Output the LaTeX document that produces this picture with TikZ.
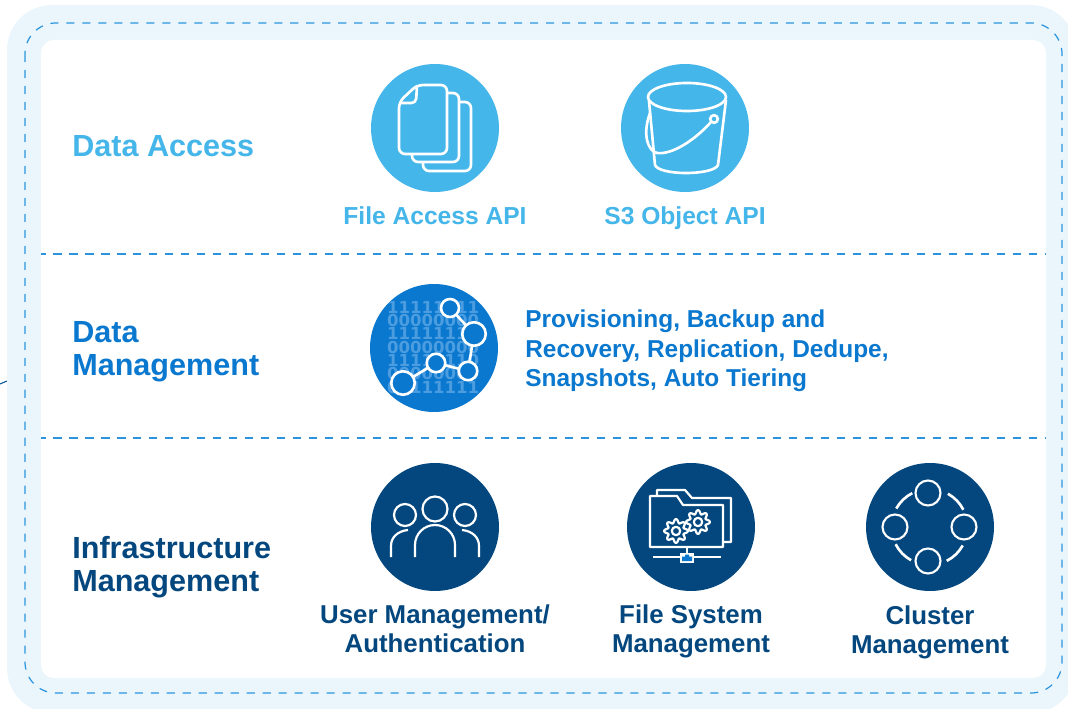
\documentclass[tikz,border=0pt]{standalone}
\usepackage{fontspec}
\setmainfont{Liberation Sans}
\newfontfamily\digitfont{DejaVu Sans}
\usetikzlibrary{positioning}
\definecolor{bandblue}{HTML}{EAF6FC}
\definecolor{accessblue}{HTML}{45B6E9}
\definecolor{managblue}{HTML}{0B78CF}
\definecolor{infrablue}{HTML}{03477E}
\definecolor{dashblue}{HTML}{2A94DE}
\definecolor{digitblue}{HTML}{4C9DE0}
\tikzset{
	badge/.style={circle,minimum size=2.56cm,inner sep=0pt,outer sep=0pt},
	iconline/.style={draw=white,line width=1.5pt,line join=round},
	thinline/.style={draw=white,line width=1.25pt,line join=round},
	dashline/.style={draw=dashblue,line width=0.7pt,dash pattern=on 4.6pt off 4.5pt},
	headtext/.style={anchor=west,align=left,inner sep=0pt,font=\bfseries\fontsize{17.4}{18.6}\selectfont},
	labeltext/.style={align=center,inner sep=0pt,font=\bfseries\fontsize{14}{16.6}\selectfont},
	infratext/.style={align=center,inner sep=0pt,font=\bfseries\fontsize{14.7}{16.6}\selectfont},
	datanode/.style={circle,draw=white,line width=1.5pt,fill=managblue,inner sep=0pt,outer sep=0pt},
	clusternode/.style={circle,draw=white,line width=1.2pt,minimum size=0.5cm,inner sep=0pt,outer sep=0pt},
	digitrow/.style={text=digitblue,font=\digitfont\bfseries\fontsize{9.4}{10}\selectfont,inner sep=0pt},
	gearicon/.pic={
		\draw[thinline,fill=infrablue] plot[domain=0:360,samples=97] (\x:{10+1.9*cos(8*\x)}) -- cycle;
		\draw[thinline] (0,0) circle (4.2);
	}
}
\begin{document}
\begin{tikzpicture}[x=0.02cm,y=-0.02cm]
	\useasboundingbox (0,0) rectangle (1068,709);
	\clip (0,0) rectangle (1068,709);
	\draw[draw=infrablue!70!managblue,line width=0.6pt] (0,384) -- (7,381);
	\fill[bandblue,rounded corners=0.9cm] (7,5) rectangle (1076,713);
	\fill[white,rounded corners=0.26cm] (41,40) rectangle (1046,678);
	\draw[dashline,rounded corners=0.62cm] (25,23) rectangle (1062,693);
	\draw[dashline,dash phase=2pt] (41,254) -- (1046,254);
	\draw[dashline,dash phase=2pt] (41,438) -- (1046,438);

	\node[headtext,text=accessblue] (accesshead) at (72,146) {Data Access};
	\node[headtext,text=managblue] (managhead) at (72,352) {Data\\Management};
	\node[headtext,text=infrablue] (infrahead) at (72,567) {Infrastructure\\Management};

	\node[badge,fill=accessblue] (filebadge) at (435,128) {};
	\node[badge,fill=accessblue] (bucketbadge) at (685,128) {};
	\node[badge,fill=managblue] (databadge) at (434,348) {};
	\node[badge,fill=infrablue] (userbadge) at (435,527) {};
	\node[badge,fill=infrablue] (folderbadge) at (691,527) {};
	\node[badge,fill=infrablue] (clusterbadge) at (930,527) {};

	\node[labeltext,text=accessblue] (filelabel) at (435,216) {File Access API};
	\node[labeltext,text=accessblue] (bucketlabel) at (685,218) {S3 Object API};
	\node[anchor=west,align=left,inner sep=0pt,text=managblue,font=\bfseries\fontsize{13.9}{16.8}\selectfont] (managlabel) at (525,351) {Provisioning, Backup and\\Recovery, Replication, Dedupe,\\Snapshots, Auto Tiering};
	\node[infratext,text=infrablue] (userlabel) at (435,629) {User Management/\\Authentication};
	\node[infratext,text=infrablue] (folderlabel) at (691,631) {File System\\Management};
	\node[infratext,text=infrablue] (clusterlabel) at (930,632) {Cluster\\Management};

	\draw[iconline,fill=accessblue,rounded corners=3.5pt] (436,102) -- (471,102) -- (471,171) -- (423,171) -- (423,150);
	\draw[iconline,fill=accessblue,rounded corners=3.5pt] (424,93) -- (459,93) -- (459,162) -- (412,162) -- (412,145);
	\draw[iconline,fill=accessblue,rounded corners=3.5pt] (417,85) -- (447,85) -- (447,154) -- (399,154) -- (399,102) -- cycle;
	\draw[iconline,rounded corners=2.5pt] (417,85) -- (416,103) -- (399,103);

	\draw[iconline] (687,97) ellipse (39 and 14);
	\draw[iconline] (649,101) -- (655,165) .. controls (657,170) and (670,173) .. (686,173) .. controls (702,173) and (716,170) .. (718,165) -- (726,100);
	\draw[iconline] (714,119) circle (3.8);
	\draw[iconline] (711,122) .. controls (695,140) and (672,155) .. (657,153) .. controls (648,151) and (642,135) .. (650,113);

	\begin{scope}
		\clip (434,348) circle (64);
		\foreach \y/\bits in {307/11111011,320/00000000,333/11111111,347/00000000,360/11110110,373/00000000,387/01111111}
			\node[digitrow] at (433,\y) {\bits};
	\end{scope}
	\node[datanode,minimum size=0.36cm] (graphone) at (450,308) {};
	\node[datanode,minimum size=0.47cm] (graphtwo) at (474,334) {};
	\node[datanode,minimum size=0.37cm] (graphthree) at (468,371) {};
	\node[datanode,minimum size=0.37cm] (graphfour) at (436,363) {};
	\node[datanode,minimum size=0.47cm] (graphfive) at (403,383) {};
	\draw[iconline] (graphone) -- (graphtwo);
	\draw[iconline] (graphtwo) -- (graphthree);
	\draw[iconline] (graphthree) -- (graphfour);
	\draw[iconline] (graphfour) -- (graphfive);

	\draw[thinline] (435,509) circle (12.5);
	\draw[thinline] (405,515) circle (11);
	\draw[thinline] (465,515) circle (11);
	\draw[thinline] (415,557) -- (415,545) arc[start angle=180,end angle=360,radius=20] -- (455,557);
	\draw[thinline] (391,557) -- (391,546) .. controls (391,537) and (398,531) .. (408,530);
	\draw[thinline] (479,557) -- (479,546) .. controls (479,537) and (472,531) .. (462,530);

	\draw[thinline] (657,496) -- (657,490) -- (685,490) -- (692,498) -- (731,498) -- (731,542) -- (723,542);
	\draw[thinline] (650,547) -- (650,496) -- (677,496) -- (683,505) -- (723,505) -- (723,547) -- cycle;
	\pic at (698,522) {gearicon};
	\pic at (676,531) {gearicon};
	\draw[thinline] (687,547) -- (687,553);
	\draw[thinline] (653,557) -- (721,557);
	\fill[white] (680,553) rectangle (694,563);
	\fill[managblue] (682,561) -- (682,556.5) -- (685,556.5) -- (685,554.5) -- (689,554.5) -- (689,556.5) -- (692,556.5) -- (692,561) -- cycle;

	\node[clusternode,minimum size=0.5cm] (clustertop) at (928,493) {};
	\node[clusternode,minimum size=0.5cm] (clusterbottom) at (928,561) {};
	\node[clusternode,minimum size=0.5cm] (clusterleft) at (895,527) {};
	\node[clusternode,minimum size=0.5cm] (clusterright) at (964,527) {};
	\foreach \a in {27,117,207,297}
		\draw[iconline] (929.5,527) ++(-\a:38) arc[start angle=-\a,end angle=-\a-34,radius=38];
\end{tikzpicture}
\end{document}
